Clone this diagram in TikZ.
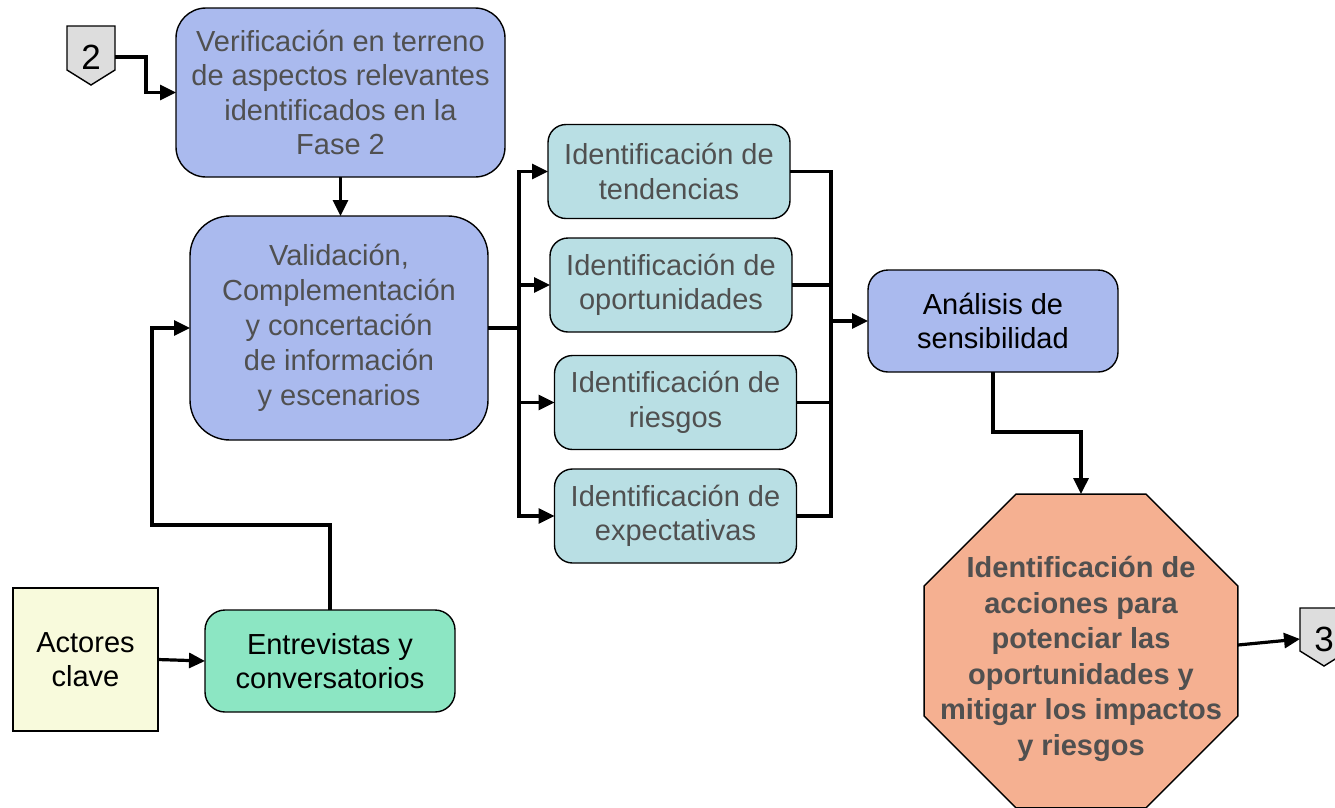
\documentclass[tikz,border=0pt]{standalone}
\usepackage{fontspec}
\setmainfont{Liberation Sans}
\usetikzlibrary{arrows.meta,shapes.geometric,calc}
\definecolor{lav}{RGB}{170,186,238}
\definecolor{cyanbox}{RGB}{185,223,228}
\definecolor{mint}{RGB}{140,230,195}
\definecolor{paleyellow}{RGB}{248,250,220}
\definecolor{salmon}{RGB}{245,176,145}
\definecolor{badgegrey}{RGB}{221,221,221}
\definecolor{txtgrey}{RGB}{80,80,80}
\tikzset{
  boxbase/.style={draw=black,line width=1.4pt,inner sep=0pt,outer sep=0pt,align=center,
    font=\fontsize{29}{34.5}\selectfont},
  lavbox/.style={boxbase,fill=lav,text=txtgrey},
  cybox/.style={boxbase,fill=cyanbox,text=txtgrey,rounded corners=18pt,minimum width=242pt,minimum height=94pt},
  conn/.style={line width=3.2pt,line join=miter},
  arr/.style={conn,-{Triangle[length=16pt,width=15pt]}},
  badgetxt/.style={inner sep=0pt,outer sep=0pt,minimum width=48pt,font=\fontsize{35}{40}\selectfont},
  badgeshape/.style={draw=black,line width=1.4pt,fill=badgegrey}
}
\begin{document}
\begin{tikzpicture}[x=1pt,y=-1pt]
\useasboundingbox (0,0) rectangle (1335,807);
% badges
\node[badgetxt] (b2) at (91,57) {\phantom{2}};
\draw[badgeshape] ($(b2)+(-24,-31)$) -- ($(b2)+(24,-31)$) -- ($(b2)+(24,13)$) -- ($(b2)+(0,28)$) -- ($(b2)+(-24,13)$) -- cycle;
\node[badgetxt] at (b2) {2};
\node[badgetxt] (b3) at (1324,639) {\phantom{3}};
\draw[badgeshape] ($(b3)+(-24,-31)$) -- ($(b3)+(24,-31)$) -- ($(b3)+(24,12)$) -- ($(b3)+(0,27)$) -- ($(b3)+(-24,12)$) -- cycle;
\node[badgetxt] at (b3) {3};
% boxes
\node[lavbox,rounded corners=30pt,minimum width=329pt,minimum height=169pt] (b1) at (340.5,92.5)
  {Verificación en terreno\\de aspectos relevantes\\identificados en la\\Fase 2};
\node[lavbox,rounded corners=40pt,minimum width=298pt,minimum height=224pt,font=\fontsize{29}{35}\selectfont] (v) at (339,328)
  {Validación,\\Complementación\\y concertación\\de información\\y escenarios};
\node[cybox] (t) at (669,171.5) {Identificación de\\tendencias};
\node[cybox] (o) at (671,285) {Identificación de\\oportunidades};
\node[cybox] (r) at (675.5,402.5) {Identificación de\\riesgos};
\node[cybox] (e) at (675.5,516) {Identificación de\\expectativas};
\node[lavbox,text=black,rounded corners=20pt,minimum width=250pt,minimum height=102pt] (a) at (993,321)
  {Análisis de\\sensibilidad};
\node[boxbase,fill=paleyellow,minimum width=145pt,minimum height=143pt] (ac) at (85.5,659.5)
  {Actores\\clave};
\node[boxbase,fill=mint,rounded corners=20pt,minimum width=250pt,minimum height=102pt] (en) at (330,661)
  {Entrevistas y\\conversatorios};
\node[regular polygon,regular polygon sides=8,minimum size=339.7pt,inner sep=0pt,outer sep=0pt,
  draw=black,line width=1.4pt,fill=salmon] (oct) at (1081,651) {};
\node[align=center,text=txtgrey,font=\bfseries\fontsize{29}{35.5}\selectfont,inner sep=0pt] (octtxt) at (1081,659)
  {Identificación de\\acciones para\\potenciar las\\oportunidades y\\mitigar los impactos\\y riesgos};
% connectors
\draw[arr] (b2.east) -- ($(b2.east)+(31,0)$) |- (b1.west);
\draw[arr] (b1.south) -- (b1.south |- v.north);
\coordinate (sl) at ($(v.east)+(31,0)$);
\draw[conn] (v.east) -- (sl);
\draw[arr] (sl) |- (t.west);
\draw[arr] (sl) |- (o.west);
\draw[arr] (sl) |- (r.west);
\draw[arr] (sl) |- (e.west);
\coordinate (sr) at (a.west -| 831,0);
\draw[conn] (t.east) -| (sr);
\draw[conn] (o.east) -| (sr);
\draw[conn] (r.east) -| (sr);
\draw[conn] (e.east) -| (sr);
\draw[arr] (sr) -- (a.west);
\draw[arr] (a.south) -- ($(a.south)+(0,60)$) -| (oct.north);
\draw[arr] ($(oct.east)+(0,-6)$) -- (b3.west);
\draw[arr] (ac.east) -- (en.west);
\draw[arr] (en.north) -- ($(en.north)+(0,-85)$) -| ($(v.west)+(-38,0)$) -- (v.west);
\end{tikzpicture}
\end{document}
